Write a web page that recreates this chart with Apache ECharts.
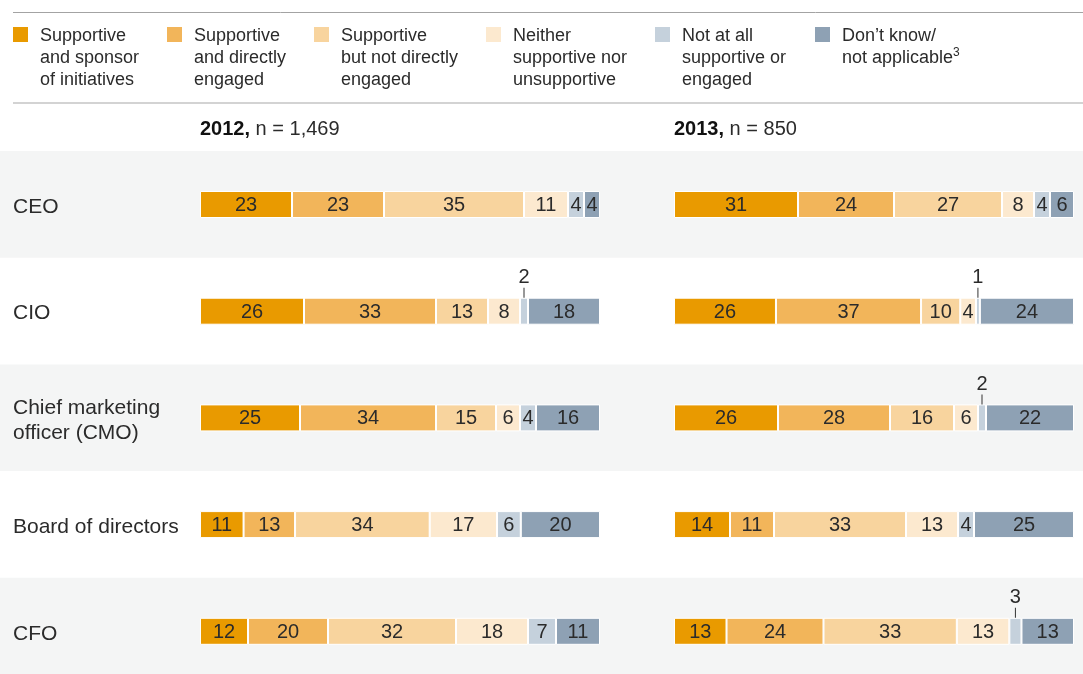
<!DOCTYPE html>
<html>
<head>
<meta charset="utf-8">
<title>Executive support by role, 2012 vs 2013</title>
<script src="https://cdn.jsdelivr.net/npm/echarts@6/dist/echarts.min.js"></script>
<style>
  html, body { margin: 0; padding: 0; background: #fff; }
  #chart { width: 1083px; height: 674px; }
</style>
</head>
<body>
<div id="chart"></div>
<script>
// Response categories (legend order, left to right in every bar)
const categories = [
  'Supportive\nand sponsor\nof initiatives',
  'Supportive\nand directly\nengaged',
  'Supportive\nbut not directly\nengaged',
  'Neither\nsupportive nor\nunsupportive',
  'Not at all\nsupportive or\nengaged',
  'Don\u2019t know/\nnot applicable{sup|3}'
];
const categoryColors = ['#E99A00', '#F2B55A', '#F8D49E', '#FCE9CF', '#C5D1DC', '#8EA1B4'];

// Roles (rows)
const roles = ['CEO', 'CIO', 'Chief marketing\nofficer (CMO)', 'Board of directors', 'CFO'];

// Survey years and respondent counts
const years = ['2012', '2013'];
const sampleSizes = ['1,469', '850'];

// % of respondents, one list per role, in category order
const values2012 = [
  [23, 23, 35, 11, 4, 4],
  [26, 33, 13, 8, 2, 18],
  [25, 34, 15, 6, 4, 16],
  [11, 13, 34, 17, 6, 20],
  [12, 20, 32, 18, 7, 11]
];
const values2013 = [
  [31, 24, 27, 8, 4, 6],
  [26, 37, 10, 4, 1, 24],
  [26, 28, 16, 6, 2, 22],
  [14, 11, 33, 13, 4, 25],
  [13, 24, 33, 13, 3, 13]
];

const FONT = '"Liberation Sans", Arial, Helvetica, sans-serif';
const TEXT = '#2b2b2b';
const panelLeft = [200, 674];
const panelWidth = 400;
const firstBarTop = 191;
const rowStep = 106.7;
const barHeight = 27;

const chart = echarts.init(document.getElementById('chart'), null, { renderer: 'canvas' });

const grids = [], xAxes = [], yAxes = [], series = [];
[values2012, values2013].forEach((yearValues, p) => {
  yearValues.forEach((rowValues, r) => {
    const g = grids.length;
    const total = rowValues.reduce((a, b) => a + b, 0);
    grids.push({
      left: panelLeft[p],
      width: panelWidth,
      top: firstBarTop + r * rowStep,
      height: barHeight,
      containLabel: false
    });
    xAxes.push({ gridIndex: g, type: 'value', min: 0, max: total, show: false });
    yAxes.push({
      gridIndex: g,
      type: 'category',
      data: [roles[r]],
      axisLine: { show: false },
      axisTick: { show: false },
      splitLine: { show: false },
      axisLabel: {
        show: p === 0,
        align: 'left',
        margin: panelLeft[0] - 13,
        formatter: (name) => name.split('\n').map((line) => '{role|' + line + '}').join('\n'),
        rich: {
          role: {
            fontFamily: FONT,
            fontSize: 21,
            lineHeight: 25,
            padding: [5, 0, 0, 0],
            color: TEXT
          }
        }
      }
    });
    rowValues.forEach((v, c) => {
      const small = v <= 3;
      series.push({
        type: 'bar',
        name: categories[c],
        stack: 'row' + g,
        xAxisIndex: g,
        yAxisIndex: g,
        barWidth: barHeight,
        data: [v],
        itemStyle: { color: categoryColors[c], borderColor: '#ffffff', borderWidth: 1 },
        label: small ? {
          show: true,
          position: 'top',
          distance: 0,
          formatter: '{n|' + v + '}\n{tick| }',
          rich: {
            n: { fontFamily: FONT, fontSize: 20, lineHeight: 20, color: TEXT, align: 'center' },
            tick: { width: 1, height: 10, lineHeight: 10, backgroundColor: '#333', fontSize: 1, align: 'center' }
          }
        } : {
          show: true,
          position: 'inside',
          offset: [0, 1],
          formatter: String(v),
          fontFamily: FONT,
          fontSize: 20,
          color: TEXT
        },
        emphasis: { disabled: true }
      });
    });
  });
});

// Alternating row bands, rules, legend and panel headers
const graphics = [];
for (let r = 0; r < roles.length; r += 2) {
  const top = firstBarTop - 40 + r * rowStep;
  graphics.push({
    type: 'rect', z: -10, silent: true,
    shape: { x: 0, y: top, width: 1083, height: Math.min(rowStep, 674 - top) },
    style: { fill: '#F4F5F5' }
  });
}
graphics.push({ type: 'line', silent: true, shape: { x1: 13, y1: 12.5, x2: 1083, y2: 12.5 }, style: { stroke: '#A3A3A3', lineWidth: 1 } });
graphics.push({ type: 'line', silent: true, shape: { x1: 13, y1: 103, x2: 1083, y2: 103 }, style: { stroke: '#C4C4C4', lineWidth: 1.5 } });

const legendX = [13, 167, 314, 486, 655, 815];
categories.forEach((name, c) => {
  graphics.push({
    type: 'rect', silent: true,
    shape: { x: legendX[c], y: 27, width: 15, height: 15 },
    style: { fill: categoryColors[c] }
  });
  graphics.push({
    type: 'text', silent: true,
    x: legendX[c] + 27, y: 25,
    style: {
      text: name,
      fontFamily: FONT, fontSize: 18, lineHeight: 22,
      fill: TEXT,
      rich: { sup: { fontFamily: FONT, fontSize: 12, lineHeight: 13, verticalAlign: 'top', fill: TEXT } }
    }
  });
});

years.forEach((yr, p) => {
  graphics.push({
    type: 'text', silent: true,
    x: panelLeft[p], y: 129,
    style: {
      text: '{b|' + yr + ',} n = ' + sampleSizes[p],
      fontFamily: FONT, fontSize: 20, fill: TEXT,
      verticalAlign: 'middle',
      rich: { b: { fontFamily: FONT, fontSize: 20, fontWeight: 'bold', fill: '#111' } }
    }
  });
});

chart.setOption({
  animation: false,
  backgroundColor: '#ffffff',
  textStyle: { fontFamily: FONT },
  grid: grids,
  xAxis: xAxes,
  yAxis: yAxes,
  series: series,
  graphic: { elements: graphics }
});
</script>
</body>
</html>
